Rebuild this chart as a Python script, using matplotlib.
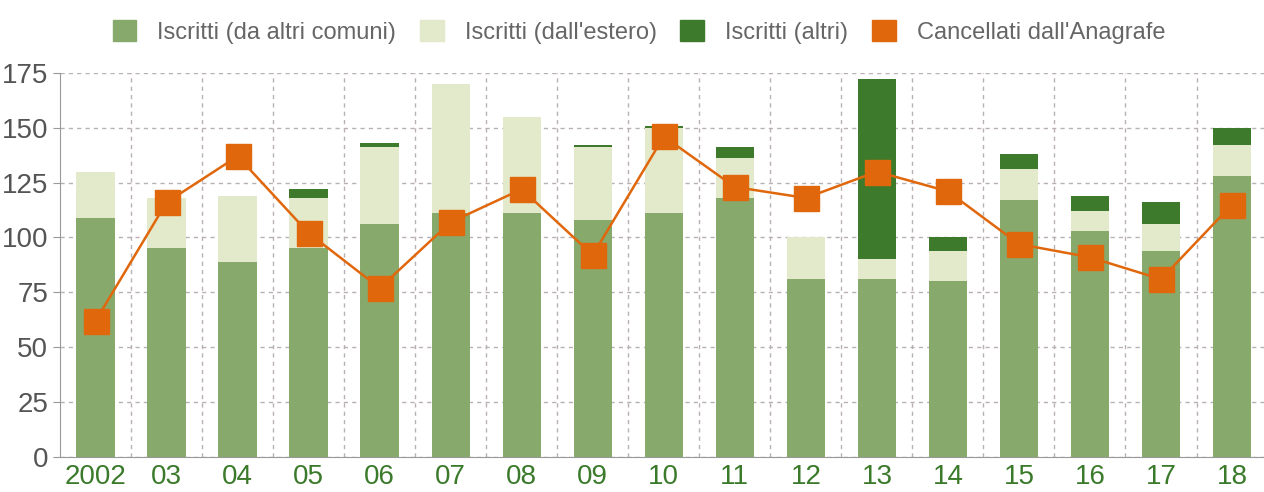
import matplotlib.pyplot as plt
from matplotlib.patches import Patch
import numpy as np

anni = ["2002", "03", "04", "05", "06", "07", "08", "09", "10",
        "11", "12", "13", "14", "15", "16", "17", "18"]
da_comuni = [109, 95, 89, 95, 106, 111, 111, 108, 111, 118, 81, 81, 80, 117, 103, 94, 128]
da_estero = [21, 23, 30, 23, 35, 59, 44, 33, 39, 18, 19, 9, 14, 14, 9, 12, 14]
altri = [0, 0, 0, 4, 2, 0, 0, 1, 1, 5, 0, 82, 6, 7, 7, 10, 8]
cancellati = [62, 116, 137, 102, 77, 107, 122, 92, 146, 123, 118, 130, 121, 97, 91, 81, 115]

etichette = ["Iscritti (da altri comuni)", "Iscritti (dall'estero)",
             "Iscritti (altri)", "Cancellati dall'Anagrafe"]
colori = ['#87a96b', '#e3eacb', '#3e7a2b', '#e0670c']

plt.rcParams['font.family'] = ['Liberation Sans', 'DejaVu Sans']

fig = plt.figure(figsize=(12.64, 4.92), dpi=100)
ax = fig.add_axes([0.0475, 0.071, 0.9525, 0.781])

x = np.arange(len(anni))
w = 0.54
c1 = np.array(da_comuni)
c2 = np.array(da_estero)
ax.bar(x, c1, w, color=colori[0], zorder=2)
ax.bar(x, c2, w, bottom=c1, color=colori[1], zorder=2)
ax.bar(x, altri, w, bottom=c1 + c2, color=colori[2], zorder=2)
ax.plot(x, cancellati, color=colori[3], lw=1.8, marker='s', ms=18, zorder=3)

ax.set_xlim(-0.5, 16.45)
ax.set_ylim(0, 175)
ax.set_yticks(range(0, 176, 25))
ax.set_xticks(x)
ax.set_xticklabels(anni)
ax.set_xticks(np.arange(0.5, 16.5, 1), minor=True)

ax.grid(axis='y', which='major', color='#b8b0b3', ls=(0, (3, 3)), lw=1.0, zorder=0)
ax.grid(axis='x', which='minor', color='#b8b0b3', ls=(0, (3, 3)), lw=1.0, zorder=0)
ax.grid(axis='x', which='major', visible=False)

for s in ['top', 'right']:
    ax.spines[s].set_visible(False)
ax.spines['left'].set_color('#999999')
ax.spines['bottom'].set_color('#999999')
ax.tick_params(axis='y', colors='#999999', labelcolor='#555555', labelsize=20, length=5)
ax.tick_params(axis='x', which='both', length=0, labelcolor='#3a7a2a', labelsize=20, pad=5)

handles = [Patch(color=c) for c in colori]
fig.legend(handles, etichette, loc='center', bbox_to_anchor=(0.5055, 0.935), ncol=4, frameon=False,
           fontsize=17, handlelength=1.0, handleheight=1.0, handletextpad=0.9,
           columnspacing=1.0, labelcolor='#666666')

fig.savefig('out.png', dpi=100)
